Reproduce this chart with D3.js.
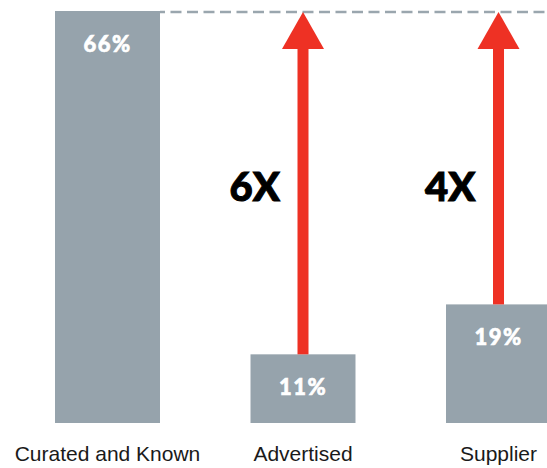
<!DOCTYPE html>
<html>
<head>
<meta charset="utf-8">
<script src="https://cdn.jsdelivr.net/npm/d3@7"></script>
<style>
  html, body { margin: 0; padding: 0; background: #fff; }
  svg { display: block; }
</style>
</head>
<body>
<svg id="chart" width="547" height="468"></svg>
<script>
// Share of respondents by source
const categories = ["Curated and Known", "Advertised", "Supplier"];
const values = [66, 11, 19];
const valueLabels = ["66%", "11%", "19%"];
// Multiplier callouts for the sources below the top bar
const multiplierLabels = ["", "6X", "4X"];

const W = 547, H = 468;
const barColor = "#96a3ac";
const arrowColor = "#ee3124";

const svg = d3.select("#chart");

const x = d3.scaleBand()
  .domain(categories)
  .range([55, 551])
  .paddingInner(0.463)
  .paddingOuter(0);

const y = d3.scaleLinear()
  .domain([0, d3.max(values)])
  .range([423, 11]);

const data = categories.map((c, i) => ({
  cat: c, value: values[i], label: valueLabels[i], mult: multiplierLabels[i]
}));
const lead = data[0];

// Reference line at the height of the tallest bar
svg.append("line")
  .attr("x1", x(lead.cat) + x.bandwidth())
  .attr("x2", W)
  .attr("y1", y(lead.value) + 1)
  .attr("y2", y(lead.value) + 1)
  .attr("stroke", "#9aa6ae")
  .attr("stroke-width", 2.5)
  .attr("stroke-dasharray", "11 5.5")
  .attr("stroke-dashoffset", 6);

// Bars
svg.selectAll("rect.bar")
  .data(data)
  .join("rect")
  .attr("class", "bar")
  .attr("x", d => x(d.cat))
  .attr("width", x.bandwidth())
  .attr("y", d => y(d.value))
  .attr("height", d => y(0) - y(d.value))
  .attr("fill", barColor);

// Value labels inside bars
svg.selectAll("text.val")
  .data(data)
  .join("text")
  .attr("class", "val")
  .attr("x", d => x(d.cat) + x.bandwidth() / 2)
  .attr("y", d => y(d.value) + 41)
  .attr("text-anchor", "middle")
  .attr("fill", "#fff")
  .attr("stroke", "#fff")
  .attr("stroke-width", 0.6)
  .attr("font-family", "Lato, 'DejaVu Sans', sans-serif")
  .attr("font-weight", 900)
  .attr("font-size", 22)
  .attr("letter-spacing", 1.5)
  .text(d => d.label);

// Arrows rising from the shorter bars up to the reference level
const rest = data.slice(1);
const headH = 37, headW = 42, shaftW = 11;
const arrows = svg.selectAll("g.arrow")
  .data(rest)
  .join("g")
  .attr("class", "arrow");

arrows.append("rect")
  .attr("x", d => x(d.cat) + x.bandwidth() / 2 - shaftW / 2)
  .attr("width", shaftW)
  .attr("y", y(lead.value) + headH)
  .attr("height", d => y(d.value) - (y(lead.value) + headH))
  .attr("fill", arrowColor);

arrows.append("path")
  .attr("d", d => {
    const cx = x(d.cat) + x.bandwidth() / 2;
    const ty = y(lead.value) + 1;
    return `M${cx},${ty} L${cx + headW / 2},${ty + headH} L${cx - headW / 2},${ty + headH} Z`;
  })
  .attr("fill", arrowColor);

arrows.append("text")
  .attr("x", d => x(d.cat) + x.bandwidth() / 2 - 23)
  .attr("y", 201)
  .attr("text-anchor", "end")
  .attr("fill", "#000")
  .attr("stroke", "#000")
  .attr("stroke-width", 1)
  .attr("font-family", "Lato, 'DejaVu Sans', sans-serif")
  .attr("font-weight", 900)
  .attr("font-size", 40)
  .text(d => d.mult);

// Category axis labels
svg.selectAll("text.cat")
  .data(data)
  .join("text")
  .attr("class", "cat")
  .attr("x", d => x(d.cat) + x.bandwidth() / 2)
  .attr("y", 461)
  .attr("text-anchor", "middle")
  .attr("fill", "#1a1a1a")
  .attr("font-family", "'Liberation Sans', Arial, sans-serif")
  .attr("font-size", 21)
  .text(d => d.cat);
</script>
</body>
</html>
